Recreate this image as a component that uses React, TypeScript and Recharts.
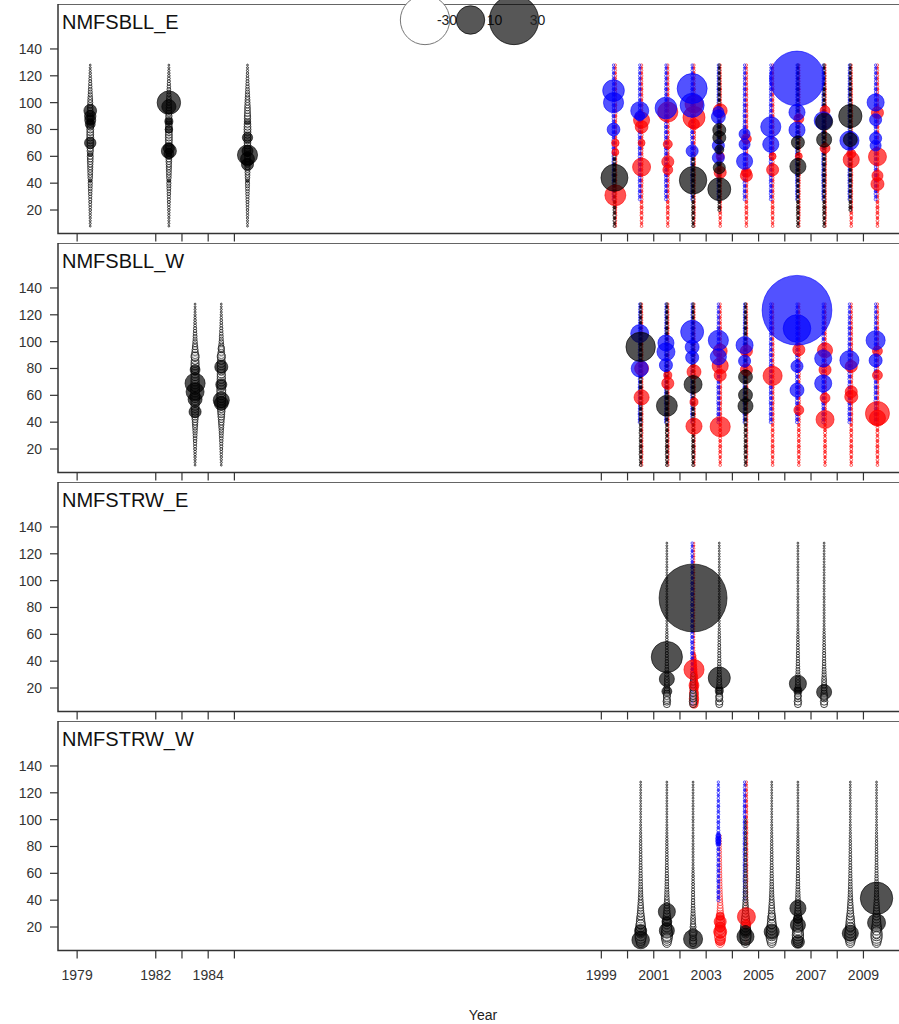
import React from "react";
import { ScatterChart, Scatter, XAxis, YAxis, ReferenceArea } from "recharts";

// length bins (cm)
const bins = [
  8, 10, 12, 14, 16, 18, 20, 22, 24, 26, 28, 30, 32, 34, 36, 38, 40, 42, 44, 46,
  48, 50, 52, 54, 56, 58, 60, 62, 64, 66, 68, 70, 72, 74, 76, 78, 80, 82, 84, 86,
  88, 90, 92, 94, 96, 98, 100, 102, 104, 106, 108, 110, 112, 114, 116, 118, 120,
  122, 124, 126, 128,
];

const yearTicks = [1979, 1982, 1983, 1984, 1985, 1999, 2000, 2001, 2002, 2003, 2004, 2005, 2006, 2007, 2008, 2009];
const yearLabels = [1979, 1982, 1984, 1999, 2001, 2003, 2005, 2007, 2009];
const lenTicks = [20, 40, 60, 80, 100, 120, 140];
const legendVals = [-30, 10, 30];
const panelNames = ["NMFSBLL_E", "NMFSBLL_W", "NMFSTRW_E", "NMFSTRW_W"];

// small residuals along each year's column, bins 8..128
const spineEarlyE = [
  -0.04, -0.05, -0.05, -0.06, -0.07, -0.07,
  -0.08, -0.09, -0.1, -0.11, -0.12, -0.13,
  -0.15, -0.16, -0.18, -0.2, -0.22, 0.2,
  -0.26, -0.28, -0.3, -0.32, -0.34, -0.36,
  -0.4, -0.42, -0.45, 0.4, -0.5, -0.5,
  -0.55, -0.55, -0.6, -0.6, -0.6, -0.58,
  -0.6, -0.58, -0.55, 0.5, -0.5, -0.5,
  -0.45, -0.42, -0.4, -0.36, -0.32, -0.3,
  -0.26, -0.22, -0.2, -0.17, -0.15, -0.13,
  -0.11, -0.1, -0.08, -0.07, -0.06, -0.05,
  -0.04,
];
const spineEarlyW = [
  -0.04, -0.05, -0.06, -0.07, -0.08, -0.09,
  -0.1, -0.12, -0.13, -0.15, -0.17, -0.19,
  -0.22, -0.25, -0.3, -0.35, -0.4, -0.45,
  -0.55, -0.6, -0.7, -0.75, -0.8, -0.85,
  -0.9, -1.0, -1.0, -0.95, -1.0, -0.9,
  -0.9, -0.85, -0.85, -0.8, -0.8, -0.75,
  -0.85, -0.8, -0.8, -0.75, -0.7, -0.65,
  -0.55, -0.45, -0.38, -0.3, -0.25, -0.2,
  -0.19, -0.16, -0.14, -0.12, -0.1, -0.09,
  -0.08, -0.07, -0.06, -0.05, -0.05, -0.04,
  -0.04,
];
const spineSexed = [
  -0.09, 0.07, -0.1, 0.08, -0.12, 0.1,
  -0.1, 0.12, -0.09, 0.1, -0.11, 0.08,
  -0.12, 0.1, -0.1, 0.09, -0.12, 0.11,
  -0.1, 0.13, -0.11, 0.1, -0.09, 0.12,
  -0.13, 0.1, -0.12, 0.11, -0.1, 0.12,
  -0.11, 0.09, -0.12, 0.1, -0.13, 0.11,
  -0.1, 0.12, -0.11, 0.09, -0.1, 0.12,
  -0.12, 0.1, -0.09, 0.11, -0.1, 0.08,
  -0.1, 0.09, -0.08, 0.1, -0.09, 0.08,
  -0.08, 0.07, -0.09, 0.07, -0.08, 0.06,
  -0.07,
];
const spineTrawlE = [
  -0.6, -0.7, -0.5, -0.6, -0.5, -0.4,
  -0.45, -0.35, -0.3, -0.3, -0.25, -0.22,
  -0.2, -0.18, -0.16, -0.15, -0.14, -0.13,
  -0.12, -0.12, -0.11, -0.1, -0.1, -0.09,
  -0.09, -0.08, -0.08, -0.07, -0.06, -0.05,
  -0.05, -0.05, -0.05, -0.05, -0.05, -0.05,
  -0.05, -0.05, -0.04, -0.05, -0.05, -0.04,
  -0.04, -0.05, -0.04, -0.04, -0.05, -0.04,
  -0.04, -0.04, -0.04, -0.05, -0.04, -0.04,
  -0.04, -0.04, -0.04, -0.04, -0.04, -0.04,
  -0.04,
];
const spineTrawlRed = [
  0.8, 1.0, 1.1, 0.9, 1.0, 0.8,
  0.9, 0.7, 0.8, 0.6, 0.7, 0.55,
  0.5, 0.45, 0.4, 0.35, 0.3, 0.25,
  0.2, 0.08, -0.05, 0.04, -0.04, 0.04,
  -0.04, 0.04, -0.04, 0.04, -0.04, 0.04,
  -0.04, 0.04, -0.04, 0.04, -0.04, 0.04,
  -0.04, 0.04, -0.04, 0.04, -0.04, 0.04,
  -0.04, 0.04, -0.04, 0.04, -0.04, 0.04,
  -0.04, 0.04, -0.04, 0.04, -0.04, 0.04,
  -0.04, 0.04, -0.04, 0.04, -0.04, 0.04,
  -0.04,
];
const spineTrawlW = [
  -0.9, -1.2, -1.5, -1.6, -1.5, -1.3,
  -1.2, -1.0, -0.9, -0.8, -0.7, -0.6,
  -0.5, -0.45, -0.4, -0.35, -0.3, -0.27,
  -0.24, -0.22, -0.2, -0.18, -0.17, -0.16,
  -0.15, -0.14, -0.13, -0.12, -0.12, -0.11,
  -0.1, -0.1, -0.1, -0.09, -0.09, -0.08,
  -0.08, -0.08, -0.07, -0.07, -0.06, -0.06,
  -0.05, -0.05, -0.05, -0.04, -0.04, -0.04,
  -0.04, -0.04, -0.04, -0.04, -0.04, -0.04,
  -0.04, -0.04, -0.04, -0.04, -0.04, -0.04,
  -0.04,
];

type Sex = "u" | "f" | "m";
type Col = { yr: number; sex: Sex; spine?: string; lo?: number; hi?: number; big: [number, number][] };

// big residuals: [length, residual]
const bllE: Col[] = [
  { yr: 1979, sex: "u", spine: "earlyE", lo: 8, hi: 128, big: [[94, 2.0], [90, 1.6], [87, 1.5], [84, 1.2], [70, 1.6]] },
  { yr: 1982, sex: "u", spine: "earlyE", lo: 8, hi: 128, big: [[100, 6.8], [97, 2.5], [86, 0.8], [80, 0.7], [66, 1.5], [64, 2.8], [62, 1.2]] },
  { yr: 1985, sex: "u", spine: "earlyE", lo: 8, hi: 128, big: [[74, 1.3], [64, 1.5], [61, 5.0], [58, 2.4], [54, 1.8]] },
  { yr: 1999, sex: "m", spine: "sexed", lo: 28, hi: 128, big: [[109, 5.8], [100, 5.0], [80, 2.0]] },
  { yr: 1999, sex: "f", spine: "sexed", lo: 8, hi: 128, big: [[70, 0.7], [63, 0.6], [31, 5.4]] },
  { yr: 1999, sex: "u", spine: "sexed", lo: 8, hi: 60, big: [[44, 9.0]] },
  { yr: 2000, sex: "m", spine: "sexed", lo: 28, hi: 128, big: [[94, 4.0], [90, 1.2]] },
  { yr: 2000, sex: "f", spine: "sexed", lo: 8, hi: 128, big: [[87, 3.2], [82, 2.0], [70, 0.6], [52, 4.0]] },
  { yr: 2001, sex: "m", spine: "sexed", lo: 28, hi: 128, big: [[96, 5.8]] },
  { yr: 2001, sex: "f", spine: "sexed", lo: 8, hi: 128, big: [[93, 5.0], [69, 1.0], [56, 1.8], [50, 1.2]] },
  { yr: 2002, sex: "m", spine: "sexed", lo: 28, hi: 128, big: [[110.5, 11.1], [98, 7.1], [64, 1.8]] },
  { yr: 2002, sex: "f", spine: "sexed", lo: 8, hi: 128, big: [[99, 4.0], [89, 6.0], [84, 1.5]] },
  { yr: 2002, sex: "u", spine: "sexed", lo: 8, hi: 60, big: [[42.2, 9.3]] },
  { yr: 2003, sex: "m", spine: "sexed", lo: 28, hi: 128, big: [[93, 1.5], [89.5, 2.4], [68, 1.8], [59, 1.8]] },
  { yr: 2003, sex: "f", spine: "sexed", lo: 8, hi: 128, big: [[94, 2.4], [60, 0.8], [48, 1.8]] },
  { yr: 2003, sex: "u", spine: "sexed", lo: 20, hi: 128, big: [[79.6, 2.1], [74, 2.1], [65, 1.0], [51.5, 1.8], [35.5, 6.5]] },
  { yr: 2004, sex: "m", spine: "sexed", lo: 28, hi: 128, big: [[76.6, 1.5], [69, 1.5], [56.3, 3.2]] },
  { yr: 2004, sex: "f", spine: "sexed", lo: 8, hi: 128, big: [[73, 1.2], [48, 1.2], [45.7, 1.8]] },
  { yr: 2005, sex: "m", spine: "sexed", lo: 28, hi: 128, big: [[82, 5.0], [69, 3.2]] },
  { yr: 2005, sex: "f", spine: "sexed", lo: 8, hi: 128, big: [[60, 0.6], [50, 1.8]] },
  { yr: 2006, sex: "m", spine: "sexed", lo: 28, hi: 128, big: [[118, 37], [92.8, 3.2], [79.6, 3.2]] },
  { yr: 2006, sex: "f", spine: "sexed", lo: 8, hi: 128, big: [[88, 1.2], [60, 0.6]] },
  { yr: 2006, sex: "u", spine: "sexed", lo: 8, hi: 128, big: [[70.4, 2.1], [52.5, 3.2]] },
  { yr: 2007, sex: "m", spine: "sexed", lo: 28, hi: 128, big: [[86.6, 4.0]] },
  { yr: 2007, sex: "f", spine: "sexed", lo: 8, hi: 128, big: [[94, 1.2], [66, 1.2]] },
  { yr: 2007, sex: "u", spine: "sexed", lo: 8, hi: 128, big: [[85.8, 3.6], [72.4, 2.8]] },
  { yr: 2008, sex: "m", spine: "sexed", lo: 28, hi: 128, big: [[71.7, 4.5]] },
  { yr: 2008, sex: "f", spine: "sexed", lo: 8, hi: 128, big: [[62, 1.0], [57.5, 3.2]] },
  { yr: 2008, sex: "u", spine: "sexed", lo: 20, hi: 128, big: [[90, 6.7], [72.4, 2.4]] },
  { yr: 2009, sex: "m", spine: "sexed", lo: 28, hi: 128, big: [[100.2, 3.6], [87.3, 1.8], [73.4, 1.8], [68, 1.5]] },
  { yr: 2009, sex: "f", spine: "sexed", lo: 8, hi: 128, big: [[92.5, 1.8], [59.7, 4.0], [45.6, 1.5], [39.4, 2.1]] },
];

const bllW: Col[] = [
  { yr: 1983, sex: "u", spine: "earlyW", lo: 8, hi: 128, big: [[89, -0.8], [79, 1.2], [69, 5.0], [62.6, 4.0], [57, 2.4], [47.7, 1.8]] },
  { yr: 1984, sex: "u", spine: "earlyW", lo: 8, hi: 128, big: [[95, -0.5], [89, -0.8], [81.2, 2.1], [68, 1.5], [56.4, 3.2], [54, 2.4]] },
  { yr: 2000, sex: "m", spine: "sexed", lo: 40, hi: 128, big: [[106, 4.0], [80, 3.6]] },
  { yr: 2000, sex: "f", spine: "sexed", lo: 8, hi: 128, big: [[80, 2.4], [58.5, 2.8]] },
  { yr: 2000, sex: "u", spine: "sexed", lo: 8, hi: 128, big: [[96.1, 10.7]] },
  { yr: 2001, sex: "m", spine: "sexed", lo: 40, hi: 128, big: [[99, 3.2], [92.4, 4.0], [82.5, 2.1]] },
  { yr: 2001, sex: "f", spine: "sexed", lo: 8, hi: 128, big: [[75, 0.8], [68.9, 1.8]] },
  { yr: 2001, sex: "u", spine: "sexed", lo: 8, hi: 128, big: [[52.2, 5.4]] },
  { yr: 2002, sex: "m", spine: "sexed", lo: 40, hi: 128, big: [[107.3, 6.5], [96, 2.4], [88.2, 2.1]] },
  { yr: 2002, sex: "f", spine: "sexed", lo: 8, hi: 128, big: [[77.5, 2.4], [55, 0.8], [37, 3.2]] },
  { yr: 2002, sex: "u", spine: "sexed", lo: 8, hi: 128, big: [[68.1, 4.0]] },
  { yr: 2003, sex: "m", spine: "sexed", lo: 40, hi: 128, big: [[101, 5.0], [88.7, 3.2]] },
  { yr: 2003, sex: "f", spine: "sexed", lo: 8, hi: 128, big: [[93, 2.4], [82, 3.2], [75, 1.8], [36.6, 5.0]] },
  { yr: 2004, sex: "m", spine: "sexed", lo: 40, hi: 128, big: [[97.4, 3.6], [85.5, 1.8]] },
  { yr: 2004, sex: "f", spine: "sexed", lo: 8, hi: 128, big: [[93, 1.8], [79, 1.8]] },
  { yr: 2004, sex: "u", spine: "sexed", lo: 8, hi: 128, big: [[73.8, 2.4], [60.2, 2.4], [52, 2.8]] },
  { yr: 2005, sex: "m", spine: "sexed", lo: 40, hi: 128, big: [] },
  { yr: 2005, sex: "f", spine: "sexed", lo: 8, hi: 128, big: [[74.5, 4.5]] },
  { yr: 2006, sex: "m", spine: "sexed", lo: 40, hi: 128, big: [[123.4, 60], [109.8, 9.4], [81.7, 1.8], [63.9, 2.4]] },
  { yr: 2006, sex: "f", spine: "sexed", lo: 8, hi: 128, big: [[94, 1.8], [49, 1.2]] },
  { yr: 2007, sex: "m", spine: "sexed", lo: 40, hi: 128, big: [[87.5, 3.6], [68.9, 3.6]] },
  { yr: 2007, sex: "f", spine: "sexed", lo: 8, hi: 128, big: [[93.6, 2.8], [79, 1.8], [58, 1.2], [42, 4.0]] },
  { yr: 2008, sex: "m", spine: "sexed", lo: 40, hi: 128, big: [[86.2, 4.5]] },
  { yr: 2008, sex: "f", spine: "sexed", lo: 8, hi: 128, big: [[81.5, 1.8], [62.6, 1.8], [59, 2.1]] },
  { yr: 2009, sex: "m", spine: "sexed", lo: 40, hi: 128, big: [[101, 4.5], [86, 2.1]] },
  { yr: 2009, sex: "f", spine: "sexed", lo: 8, hi: 128, big: [[93, 1.2], [75, 1.2], [46.5, 7.1], [43, 3.2]] },
];

const trwE: Col[] = [
  { yr: 2001, sex: "u", spine: "trawlE", lo: 8, hi: 128, big: [[43.1, 12], [26.7, 2.8], [17.5, 1.2], [14, -0.6], [11, -0.6]] },
  { yr: 2002, sex: "m", spine: "sexed", lo: 8, hi: 128, big: [] },
  { yr: 2002, sex: "f", spine: "trawlRed", lo: 8, hi: 128, big: [[33.7, 5.0], [22, 1.2]] },
  { yr: 2002, sex: "u", spine: "trawlE", lo: 8, hi: 30, big: [[87.1, 57]] },
  { yr: 2003, sex: "u", spine: "trawlE", lo: 8, hi: 128, big: [[27.5, 6.0], [18, 0.8], [13, -0.6]] },
  { yr: 2006, sex: "u", spine: "trawlE", lo: 8, hi: 128, big: [[23.2, 3.6], [18, 0.8], [14, -0.5]] },
  { yr: 2007, sex: "u", spine: "trawlE", lo: 8, hi: 128, big: [[17, 2.8], [13, -0.5]] },
];

const trwW: Col[] = [
  { yr: 2000, sex: "u", spine: "trawlW", lo: 8, hi: 128, big: [[22, -1.0], [17.3, 1.8], [10.3, 3.8]] },
  { yr: 2001, sex: "u", spine: "trawlW", lo: 8, hi: 128, big: [[31.4, 3.6], [24, 1.2], [17.3, 2.8], [12, -0.8]] },
  { yr: 2002, sex: "u", spine: "trawlE", lo: 8, hi: 128, big: [[16, -0.8], [11, 4.5]] },
  { yr: 2003, sex: "m", spine: "sexed", lo: 40, hi: 128, big: [[88, 0.3], [86, 0.35], [84, 0.35], [82, 0.3]] },
  { yr: 2003, sex: "f", spine: "trawlW", lo: 8, hi: 88, big: [[28, 0.8], [24, 1.8], [20, 1.2], [16.5, 2.1], [10, 1.2]] },
  { yr: 2004, sex: "m", spine: "sexed", lo: 40, hi: 128, big: [] },
  { yr: 2004, sex: "f", spine: "sexed", lo: 8, hi: 128, big: [[27.7, 4.0], [22, 1.0]] },
  { yr: 2004, sex: "u", spine: "trawlW", lo: 8, hi: 100, big: [[17, 1.5], [12.8, 3.6]] },
  { yr: 2005, sex: "u", spine: "trawlW", lo: 8, hi: 128, big: [[28, -0.6], [22, -0.9], [16.5, 2.8]] },
  { yr: 2006, sex: "u", spine: "trawlW", lo: 8, hi: 128, big: [[34, 3.2], [26, 1.0], [21.5, 2.8], [15, -0.8], [9, 2.1]] },
  { yr: 2008, sex: "u", spine: "trawlW", lo: 8, hi: 128, big: [[20, -0.8], [15.3, 3.2]] },
  { yr: 2009, sex: "u", spine: "trawlW", lo: 8, hi: 128, big: [[41.4, 13], [23.2, 4.0], [17, -0.8], [14, -0.7]] },
];

const spines: Record<string, number[]> = {
  earlyE: spineEarlyE,
  earlyW: spineEarlyW,
  sexed: spineSexed,
  trawlE: spineTrawlE,
  trawlRed: spineTrawlRed,
  trawlW: spineTrawlW,
};
const panelCols = [bllE, bllW, trwE, trwW];

// layout
const CHART_W = 930;
const PLOT_H = 229.5;
const PANEL_TOPS = [3.5, 242.7, 482, 720.5];
const X0 = 1978.27;
const X1 = X0 + (CHART_W - 58) / 26.21;
const Y0 = 2.5;
const Y1 = 173.5;
const MID = 0.5;
const SEX_DX: Record<Sex, number> = { u: 0, m: -0.035, f: 0.035 };
const SEX_RGB: Record<Sex, string> = { u: "0,0,0", f: "255,0,0", m: "0,0,255" };
const RK = 4.5;
const FONT = "'Liberation Sans', Arial, sans-serif";

type Pt = { x: number; y: number; v: number; s: Sex };

function spinePoints(cols: Col[], sex: Sex): Pt[] {
  const pts: Pt[] = [];
  cols.forEach((c) => {
    if (c.sex !== sex || !c.spine) return;
    const prof = spines[c.spine];
    const x = c.yr + MID + SEX_DX[sex];
    bins.forEach((b, i) => {
      if (b >= (c.lo ?? 8) && b <= (c.hi ?? 128)) pts.push({ x, y: b, v: prof[i], s: sex });
    });
  });
  return pts;
}

function bigPoints(cols: Col[], sex: Sex): Pt[] {
  const pts: Pt[] = [];
  cols.forEach((c) => {
    if (c.sex !== sex) return;
    const x = c.yr + MID + SEX_DX[sex];
    c.big.forEach(([len, v]) => pts.push({ x, y: len, v, s: sex }));
  });
  return pts;
}

const Bubble = (props: any) => {
  const { cx, cy, payload } = props;
  if (cx == null || cy == null || !payload) return <g />;
  const v: number = payload.v;
  const rgb = SEX_RGB[payload.s as Sex];
  const r = Math.max(RK * Math.sqrt(Math.abs(v)), 0.8);
  const pos = v > 0;
  const openU = payload.s === "u" && !pos;
  return (
    <circle
      cx={cx}
      cy={cy}
      r={r}
      fill={pos ? `rgba(${rgb},0.68)` : "rgba(255,255,255,0.3)"}
      stroke={openU ? "rgba(30,30,30,0.85)" : `rgba(${rgb},0.75)`}
      strokeWidth={openU ? 1 : 0.8}
    />
  );
};

const sexOrder: Sex[] = ["f", "m", "u"];

function Panel({ idx }: { idx: number }) {
  const cols = panelCols[idx];
  const last = idx === 3;
  const axisH = last ? 74 : 9;
  return (
    <div style={{ position: "absolute", left: 0, top: PANEL_TOPS[idx] }}>
      <ScatterChart width={CHART_W} height={PLOT_H + axisH} margin={{ top: 0, right: 0, bottom: 0, left: 0 }}>
        <XAxis
          type="number"
          dataKey="x"
          domain={[X0, X1]}
          ticks={yearTicks}
          interval={0}
          height={axisH}
          tickSize={8}
          tickMargin={12}
          axisLine={false}
          tickLine={{ stroke: "#333", strokeWidth: 1.2 }}
          tick={{ fill: "#333", fontSize: 14, fontFamily: FONT }}
          tickFormatter={(t: number) => (last && yearLabels.includes(t) ? String(t) : "")}
        />
        <YAxis
          type="number"
          dataKey="y"
          domain={[Y0, Y1]}
          ticks={lenTicks}
          width={58}
          tickSize={8}
          tickMargin={8}
          axisLine={false}
          tickLine={{ stroke: "#333", strokeWidth: 1.2 }}
          tick={{ fill: "#333", fontSize: 14, fontFamily: FONT }}
        />
        <ReferenceArea x1={X0} x2={X1} y1={Y0} y2={Y1} fill="none" stroke="#333" strokeWidth={1.5} ifOverflow="visible" />
        {sexOrder.map((s) => (
          <Scatter key={"sp" + s} data={spinePoints(cols, s)} shape={Bubble} isAnimationActive={false} />
        ))}
        {sexOrder.map((s) => (
          <Scatter key={"bg" + s} data={bigPoints(cols, s)} shape={Bubble} isAnimationActive={false} />
        ))}
      </ScatterChart>
    </div>
  );
}

export default function App() {
  const legendX = [425, 470.5, 514];
  const labelX = [447, 494.5, 537.5];
  return (
    <div style={{ position: "absolute", left: 0, top: 0, width: 899, height: 1024, overflow: "hidden", background: "#fff" }}>
      {panelNames.map((_, i) => (
        <Panel key={i} idx={i} />
      ))}
      <svg width={899} height={1024} style={{ position: "absolute", left: 0, top: 0, pointerEvents: "none" }}>
        {panelNames.map((n, i) => (
          <text key={n} x={62} y={PANEL_TOPS[i] + 25} fontSize={20} fontFamily={FONT} fill="#111">
            {n}
          </text>
        ))}
        {legendVals.map((v, i) => (
          <g key={v}>
            <circle
              cx={legendX[i]}
              cy={20}
              r={RK * Math.sqrt(Math.abs(v))}
              fill={v > 0 ? "rgba(0,0,0,0.66)" : "#fff"}
              stroke={v > 0 ? "rgba(0,0,0,0.7)" : "#777"}
              strokeWidth={1}
            />
            <text x={labelX[i]} y={25} fontSize={14} fontFamily={FONT} fill="#222" textAnchor="middle">
              {v}
            </text>
          </g>
        ))}
        <text x={483} y={1020} fontSize={14} fontFamily={FONT} fill="#222" textAnchor="middle">
          Year
        </text>
      </svg>
    </div>
  );
}
